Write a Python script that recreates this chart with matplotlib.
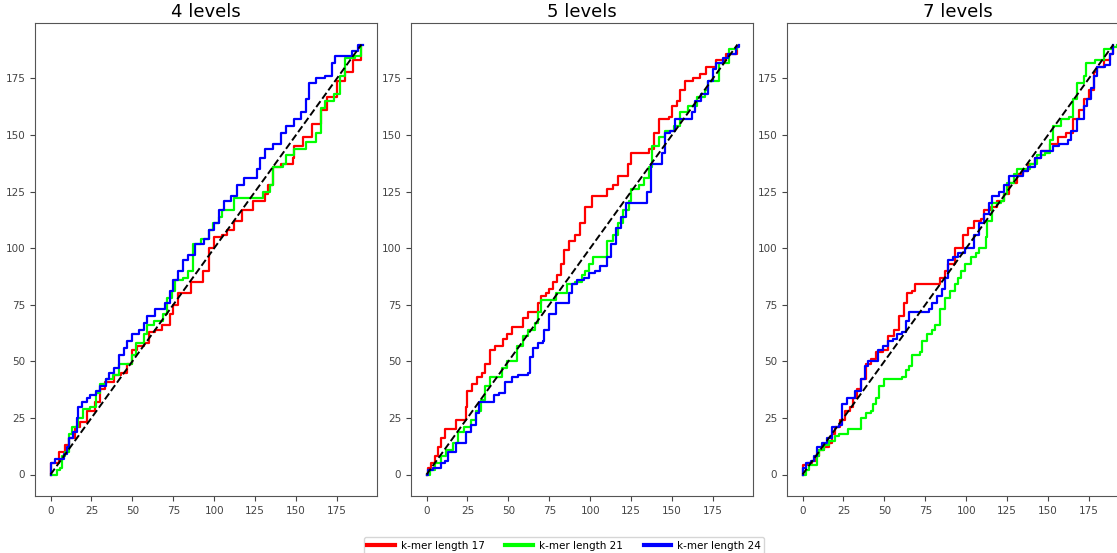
import matplotlib
matplotlib.use("Agg")
import matplotlib.pyplot as plt

titles = ["4 levels", "5 levels", "7 levels"]
labels = ["k-mer length 17", "k-mer length 21", "k-mer length 24"]
colors = ["#ff0000", "#00ff00", "#0000ff"]

# ---- 4 levels ----
l4_k17_x = [0, 0, 5, 9, 11, 15, 18, 22, 27, 30, 33, 39, 43, 47, 50, 53, 57, 60, 64, 68, 73, 75, 78, 86, 93, 97, 100, 105, 108, 112, 117, 124, 131, 133, 136, 141, 148, 149, 154, 160, 165, 169, 175, 180, 185, 190]
l4_k17_y = [0, 5, 10, 13, 16, 21, 23, 28, 32, 38, 41, 44, 45, 49, 55, 57, 58, 63, 64, 66, 71, 75, 80, 85, 90, 100, 105, 106, 108, 112, 117, 121, 124, 128, 136, 137, 140, 145, 149, 155, 161, 167, 174, 178, 183, 189]
l4_k21_x = [0, 4, 6, 7, 9, 11, 13, 17, 20, 24, 28, 30, 34, 38, 42, 48, 50, 52, 57, 59, 63, 69, 71, 74, 76, 81, 84, 87, 92, 97, 99, 103, 105, 112, 124, 130, 134, 136, 142, 144, 149, 156, 162, 165, 168, 173, 177, 180, 186, 190]
l4_k21_y = [0, 2, 3, 8, 10, 18, 21, 25, 29, 30, 36, 40, 42, 44, 49, 49, 53, 58, 62, 66, 68, 71, 78, 81, 86, 87, 90, 102, 104, 108, 111, 114, 117, 122, 122, 125, 128, 136, 137, 141, 144, 147, 151, 162, 165, 168, 176, 184, 185, 189]
l4_k24_x = [0, 0, 3, 8, 10, 11, 14, 16, 17, 19, 22, 24, 28, 30, 34, 36, 39, 42, 45, 47, 50, 54, 57, 59, 64, 70, 73, 75, 78, 81, 84, 88, 94, 97, 100, 103, 106, 110, 114, 118, 124, 126, 128, 131, 136, 139, 141, 144, 149, 153, 156, 158, 162, 168, 172, 174, 181, 184, 188, 191]
l4_k24_y = [0, 5, 7, 9, 12, 16, 19, 25, 30, 32, 34, 35, 37, 39, 42, 45, 47, 53, 56, 59, 62, 64, 67, 70, 73, 76, 81, 86, 90, 95, 97, 102, 104, 108, 111, 117, 121, 123, 128, 131, 131, 135, 140, 144, 146, 146, 151, 154, 157, 160, 166, 173, 175, 176, 182, 185, 185, 187, 190, 190]

# ---- 5 levels ----
l5_k17_x = [0, 1, 3, 5, 7, 9, 11, 17, 18, 23, 24, 25, 28, 31, 34, 36, 39, 42, 47, 49, 52, 59, 62, 65, 68, 70, 73, 75, 77, 80, 82, 84, 87, 91, 94, 97, 101, 106, 110, 114, 117, 123, 125, 134, 136, 139, 142, 148, 150, 153, 155, 158, 163, 167, 171, 175, 177, 183, 190]
l5_k17_y = [0, 3, 5, 8, 12, 16, 20, 20, 24, 24, 30, 37, 40, 43, 45, 49, 55, 57, 60, 62, 65, 69, 72, 72, 76, 79, 80, 82, 85, 88, 93, 99, 103, 106, 111, 118, 123, 123, 126, 128, 132, 137, 142, 142, 144, 151, 157, 158, 163, 165, 170, 174, 175, 177, 180, 180, 183, 186, 189]
l5_k21_x = [0, 2, 5, 9, 12, 16, 19, 23, 27, 30, 33, 36, 39, 43, 46, 49, 54, 55, 59, 62, 66, 68, 70, 77, 79, 83, 86, 91, 95, 97, 99, 102, 107, 110, 114, 117, 120, 124, 125, 130, 133, 136, 138, 142, 146, 151, 155, 160, 165, 170, 172, 179, 185, 190]
l5_k21_y = [0, 2, 5, 8, 11, 14, 19, 21, 24, 28, 33, 39, 43, 43, 47, 50, 50, 57, 61, 64, 67, 72, 77, 77, 80, 80, 84, 85, 88, 90, 93, 96, 96, 103, 106, 111, 117, 121, 126, 128, 131, 136, 145, 149, 152, 154, 160, 163, 167, 170, 174, 182, 188, 189]
l5_k24_x = [0, 1, 4, 9, 11, 13, 18, 21, 24, 27, 30, 32, 38, 41, 44, 48, 52, 56, 62, 63, 65, 68, 71, 72, 75, 79, 85, 87, 89, 92, 96, 99, 103, 106, 110, 113, 116, 119, 122, 126, 132, 135, 137, 141, 144, 146, 149, 152, 159, 162, 164, 168, 172, 175, 177, 181, 184, 189, 191]
l5_k24_y = [0, 2, 3, 5, 6, 10, 14, 14, 19, 22, 27, 32, 32, 35, 36, 41, 43, 44, 45, 52, 56, 58, 59, 64, 71, 76, 76, 80, 84, 86, 87, 89, 90, 92, 96, 102, 109, 114, 120, 120, 120, 125, 137, 137, 142, 151, 152, 157, 157, 160, 165, 168, 174, 179, 182, 184, 186, 189, 190]

# ---- 7 levels ----
l7_k17_x = [0, 0, 3, 6, 8, 10, 13, 16, 18, 20, 23, 26, 29, 31, 33, 36, 39, 42, 45, 49, 52, 56, 59, 62, 64, 67, 69, 78, 82, 84, 87, 89, 93, 98, 101, 105, 109, 111, 115, 119, 123, 126, 131, 135, 138, 142, 146, 151, 156, 161, 165, 169, 172, 175, 178, 180, 184, 188, 190]
l7_k17_y = [0, 4, 5, 6, 8, 11, 12, 14, 18, 21, 24, 28, 30, 34, 38, 42, 49, 51, 54, 55, 61, 64, 70, 76, 80, 81, 84, 84, 84, 87, 90, 93, 100, 106, 109, 112, 113, 117, 118, 121, 124, 129, 133, 134, 137, 140, 143, 146, 149, 151, 157, 161, 166, 170, 178, 180, 183, 186, 189]
l7_k21_x = [0, 2, 4, 8, 9, 10, 13, 16, 20, 22, 28, 35, 36, 39, 42, 43, 45, 47, 50, 56, 61, 63, 65, 67, 72, 73, 76, 79, 81, 84, 87, 90, 93, 95, 97, 99, 103, 106, 108, 112, 113, 116, 121, 123, 125, 129, 131, 137, 139, 143, 148, 151, 153, 158, 163, 165, 168, 172, 173, 179, 184, 189, 192]
l7_k21_y = [0, 2, 4, 4, 8, 11, 13, 15, 17, 18, 20, 20, 25, 27, 28, 31, 34, 39, 42, 42, 43, 46, 48, 53, 54, 59, 62, 64, 66, 73, 78, 81, 84, 87, 90, 93, 96, 98, 100, 105, 112, 120, 121, 124, 129, 133, 135, 135, 137, 141, 142, 148, 154, 157, 158, 166, 173, 176, 182, 183, 188, 189, 190]
l7_k24_x = [0, 0, 2, 5, 7, 9, 11, 12, 15, 18, 22, 24, 27, 30, 32, 36, 38, 40, 43, 46, 49, 52, 55, 58, 61, 63, 65, 71, 77, 79, 82, 85, 87, 89, 92, 95, 99, 102, 105, 108, 111, 114, 116, 120, 123, 126, 129, 135, 138, 142, 146, 150, 153, 157, 162, 164, 168, 172, 174, 176, 178, 180, 185, 188, 190]
l7_k24_y = [0, 3, 5, 6, 8, 12, 12, 14, 16, 21, 22, 31, 34, 34, 37, 42, 48, 50, 50, 55, 57, 59, 60, 62, 63, 68, 72, 72, 73, 76, 79, 82, 87, 95, 96, 98, 100, 100, 106, 111, 115, 120, 123, 125, 128, 132, 132, 134, 136, 140, 143, 143, 145, 146, 148, 152, 157, 163, 166, 171, 176, 180, 181, 186, 190]

panels = [
    [(l4_k17_x, l4_k17_y), (l4_k21_x, l4_k21_y), (l4_k24_x, l4_k24_y)],
    [(l5_k17_x, l5_k17_y), (l5_k21_x, l5_k21_y), (l5_k24_x, l5_k24_y)],
    [(l7_k17_x, l7_k17_y), (l7_k21_x, l7_k21_y), (l7_k24_x, l7_k24_y)],
]
diag = [0, 190]
ticks = [0, 25, 50, 75, 100, 125, 150, 175]

W, H = 1117, 553
fig = plt.figure(figsize=(W / 100, H / 100), dpi=100)
lefts = [35, 411, 787]
ax_w, ax_top, ax_bot = 342, 23, 496
handles = []
for i, (left, title, series) in enumerate(zip(lefts, titles, panels)):
    ax = fig.add_axes([left / W, (H - ax_bot) / H, ax_w / W, (ax_bot - ax_top) / H])
    for (xs, ys), c, lab in zip(series, colors, labels):
        h, = ax.plot(xs, ys, drawstyle="steps-post", color=c, lw=1.6, label=lab)
        if i == 0:
            handles.append(h)
    ax.plot(diag, diag, "k--", lw=1.4)
    ax.set_xlim(-9.5, 199.5)
    ax.set_ylim(-9.5, 199.5)
    ax.set_xticks(ticks)
    ax.set_yticks(ticks)
    ax.tick_params(labelsize=7.5, colors="#444444", length=3.5)
    for s in ax.spines.values():
        s.set_color("#555555")
    ax.set_title(title, fontsize=13, pad=4)

leg = fig.legend(handles=handles, labels=labels, loc="lower center", ncol=3,
                 bbox_to_anchor=(0.505, -0.012), fontsize=7.5, frameon=True,
                 handlelength=2.6, columnspacing=2.0, handletextpad=0.6,
                 borderpad=0.35)
for lh in leg.get_lines():
    lh.set_linewidth(3)
fig.savefig("out.png", dpi=100)
